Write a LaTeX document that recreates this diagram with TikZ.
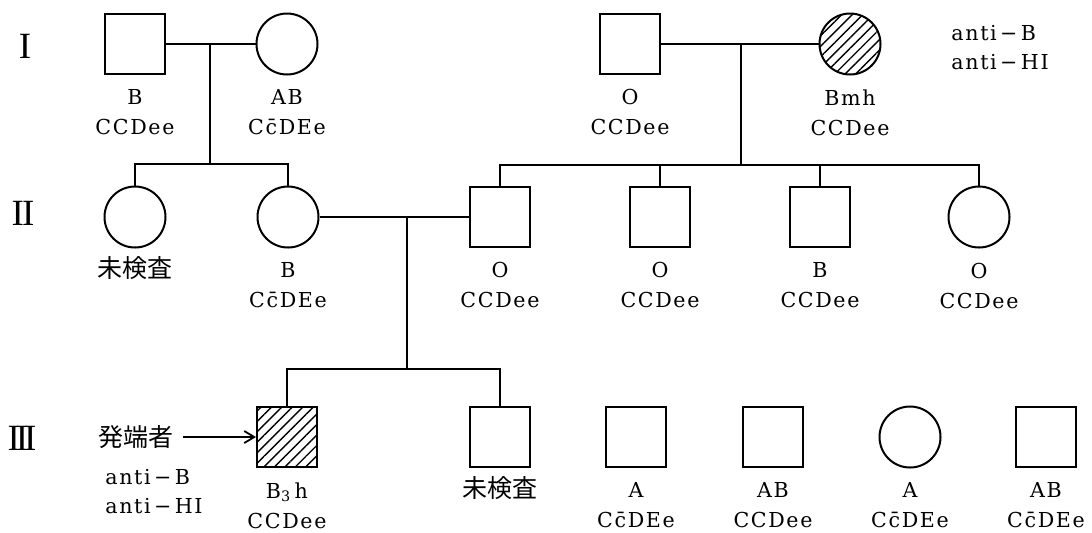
\documentclass[tikz,border=0pt]{standalone}
\usepackage{fontspec}
\setmainfont{DejaVu Serif}[LetterSpace=8]
\newfontfamily\numfont{Liberation Serif}
\newfontfamily\cjk{Noto Sans CJK JP}
\usetikzlibrary{positioning,patterns.meta,arrows.meta}

\begin{document}
\begin{tikzpicture}[
    x=0.5pt, y=-0.5pt,
    node distance=7pt,
    sq/.style={draw, line width=1pt, minimum size=30pt, inner sep=0pt},
    cir/.style={draw, circle, line width=1pt, minimum size=30.5pt, inner sep=0pt},
    hatch/.style={pattern={Lines[angle=45, distance=3.7pt, line width=0.7pt]}},
    lbl/.style={inner sep=0pt, align=center, font=\fontsize{10.3}{15}\selectfont},
    jlbl/.style={inner sep=0pt, font=\cjk\fontsize{12.5}{15}\selectfont},
    gen/.style={inner sep=0pt, font=\numfont\fontsize{18.5}{18.5}\selectfont},
    note/.style={inner sep=0pt, align=left, anchor=north west, font=\fontsize{10.3}{14.7}\selectfont},
    conn/.style={line width=0.8pt},
    arr/.style={-{Straight Barb[length=5pt, width=6pt]}, line width=0.9pt}
  ]
  \useasboundingbox (0,0) rectangle (1092,532);

  % generation I
  \node[gen] (gI) at (25,46) {I};
  \node[sq] (I1) at (135,44) {};
  \node[cir] (I2) at (287,44) {};
  \node[sq] (I3) at (630,44) {};
  \node[cir, hatch] (I4) at (850,44) {};
  \node[lbl, below=of I1] (lI1) {B\\CCDee};
  \node[lbl, below=of I2] (lI2) {AB\\C\={c}DEe};
  \node[lbl, below=of I3] (lI3) {O\\CCDee};
  \node[lbl, below=of I4] (lI4) {Bmh\\CCDee};
  \node[note] (nI4) at (951,25) {anti\,−\,B\\anti\,−\,HI};

  % generation II
  \node[gen] (gII) at (23,213) {I\kern-1pt I};
  \node[cir] (II1) at (135,217) {};
  \node[cir] (II2) at (288,217) {};
  \node[sq] (II3) at (500,217) {};
  \node[sq] (II4) at (660,217) {};
  \node[sq] (II5) at (820,217) {};
  \node[cir] (II6) at (979,217) {};
  \node[jlbl, below=4pt of II1] (lII1) {未検査};
  \node[lbl, below=of II2] (lII2) {B\\C\={c}DEe};
  \node[lbl, below=of II3] (lII3) {O\\CCDee};
  \node[lbl, below=of II4] (lII4) {O\\CCDee};
  \node[lbl, below=of II5] (lII5) {B\\CCDee};
  \node[lbl, below=of II6] (lII6) {O\\CCDee};

  % generation III
  \node[gen] (gIII) at (22,438) {I\kern-2pt I\kern-2pt I};
  \node[sq, hatch] (III1) at (287,437) {};
  \node[sq] (III2) at (500,437) {};
  \node[sq] (III3) at (636,437) {};
  \node[sq] (III4) at (773,437) {};
  \node[cir] (III5) at (910,437) {};
  \node[sq] (III6) at (1046,437) {};
  \node[lbl, below=of III1] (lIII1) {B\textsubscript{3}\,h\\CCDee};
  \node[jlbl, below=4pt of III2] (lIII2) {未検査};
  \node[lbl, below=of III3] (lIII3) {A\\C\={c}DEe};
  \node[lbl, below=of III4] (lIII4) {AB\\CCDee};
  \node[lbl, below=of III5] (lIII5) {A\\C\={c}DEe};
  \node[lbl, below=of III6] (lIII6) {AB\\C\={c}DEe};
  \node[jlbl] (prob) at (136,437) {発端者};
  \node[note] (nIII1) at (105,469) {anti\,−\,B\\anti\,−\,HI};
  \draw[arr, shorten <=4.5pt] (prob.east) -- (III1.west);

  % couples and sibships
  \coordinate (c1) at (210,44);
  \coordinate (s1) at (210,164);
  \coordinate (c2) at (741,44);
  \coordinate (s2) at (741,165);
  \coordinate (c3) at (407,217);
  \coordinate (s3) at (407,369);
  \draw[conn] (I1.east) -- (I2.west);
  \draw[conn] (I3.east) -- (I4.west);
  \draw[conn] (II2.east) -- (II3.west);
  \draw[conn] (c1) -- (s1);
  \draw[conn] (II1.north) |- (s1) -| (II2.north);
  \draw[conn] (c2) -- (s2);
  \draw[conn] (II3.north) |- (s2) -| (II6.north);
  \foreach \k in {II4,II5}
    \draw[conn] (\k.north) -- (\k.north |- s2);
  \draw[conn] (c3) -- (s3);
  \draw[conn] (III1.north) |- (s3) -| (III2.north);
\end{tikzpicture}
\end{document}
